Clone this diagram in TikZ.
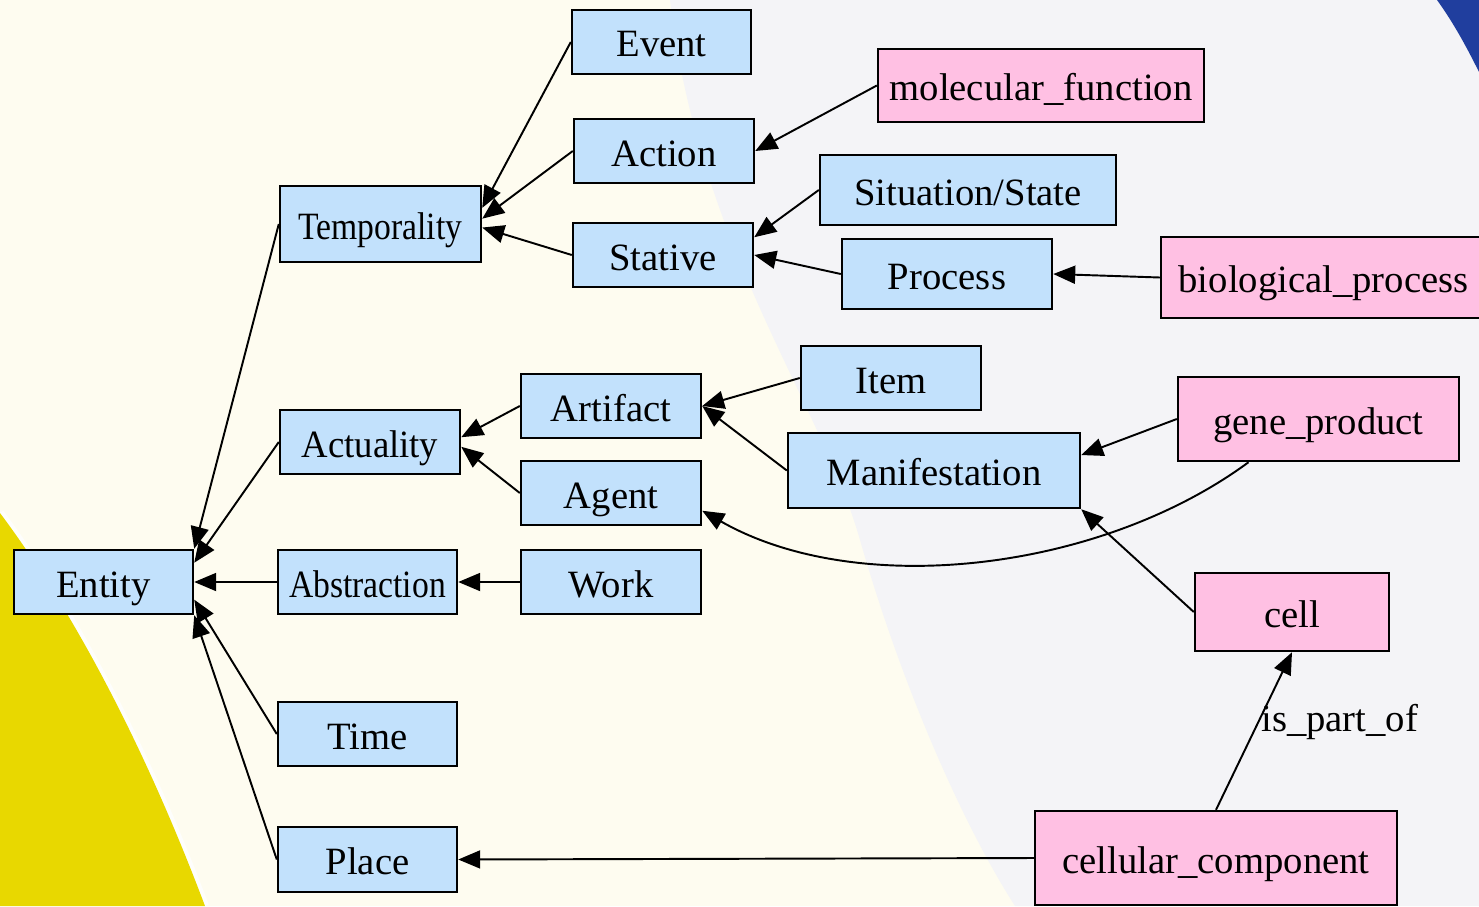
\documentclass[tikz,border=0pt]{standalone}
\usepackage{fontspec}
\setmainfont{Liberation Serif}
\usepackage{graphicx}
\usepackage{tikz}
\usetikzlibrary{arrows.meta, calc}

\definecolor{clsblue}{RGB}{194,225,252}
\definecolor{gopink}{RGB}{255,192,227}
\definecolor{creambg}{RGB}{254,252,240}
\definecolor{graybg}{RGB}{244,244,247}
\definecolor{sunyellow}{RGB}{232,216,0}
\definecolor{cornerblue}{RGB}{32,62,158}

\begin{document}
\begin{tikzpicture}[x=0.02cm, y=-0.02cm,
        cls/.style={draw, line width=1.4pt, fill=clsblue, inner sep=0pt, text height=0.66cm, text depth=0.06cm, font=\fontsize{22}{26}\selectfont},
        gocls/.style={cls, fill=gopink},
        isa/.style={-{Triangle[length=0.44cm, width=0.36cm]}, line width=1.1pt}]
        \useasboundingbox (0,0) rectangle (1479,906);

        % background
        \fill[creambg] (0,0) rectangle (1479,906);
        \fill[graybg] (670,0) .. controls (700,250) and (820,400) .. (860,540) .. controls (900,680) and (960,820) .. (1015,906) -- (1479,906) -- (1479,0) -- cycle;
        \draw[white, line width=0.16cm, opacity=0.8] (0,513) .. controls (80,620) and (150,760) .. (205,906);
        \fill[sunyellow] (0,513) .. controls (80,620) and (150,760) .. (205,906) -- (0,906) -- cycle;
        \fill[cornerblue] (1437,0) .. controls (1455,25) and (1468,50) .. (1479,72) -- (1479,0) -- cycle;

        % classes
        \node[cls, minimum width=3.58cm, minimum height=1.28cm] (Entity) at (103.5,582) {Entity};
        \node[cls, minimum width=4.02cm, minimum height=1.52cm] (Temporality) at (380.5,224) {\scalebox{0.87}[1]{Temporality}};
        \node[cls, minimum width=3.6cm, minimum height=1.28cm] (Actuality) at (370,442) {\scalebox{0.95}[1]{Actuality}};
        \node[cls, minimum width=3.58cm, minimum height=1.28cm] (Abstraction) at (367.5,582) {\scalebox{0.87}[1]{Abstraction}};
        \node[cls, minimum width=3.58cm, minimum height=1.28cm] (Time) at (367.5,734) {Time};
        \node[cls, minimum width=3.58cm, minimum height=1.3cm] (Place) at (367.5,859.5) {Place};

        \node[cls, minimum width=3.58cm, minimum height=1.28cm] (Event) at (661.5,42) {Event};
        \node[cls, minimum width=3.6cm, minimum height=1.28cm] (Action) at (664,151) {Action};
        \node[cls, minimum width=3.6cm, minimum height=1.28cm] (Stative) at (663,255) {Stative};
        \node[cls, minimum width=5.92cm, minimum height=1.4cm] (Situation) at (968,190) {Situation/State};
        \node[cls, minimum width=4.2cm, minimum height=1.4cm] (Process) at (947,274) {Process};

        \node[cls, minimum width=3.6cm, minimum height=1.28cm] (Artifact) at (611,406) {Artifact};
        \node[cls, minimum width=3.6cm, minimum height=1.28cm] (Agent) at (611,493) {Agent};
        \node[cls, minimum width=3.6cm, minimum height=1.28cm] (Work) at (611,582) {Work};
        \node[cls, minimum width=3.6cm, minimum height=1.28cm] (Item) at (891,378) {Item};
        \node[cls, minimum width=5.84cm, minimum height=1.5cm] (Manifestation) at (934,470.5) {Manifestation};

        % GO terms
        \node[gocls, minimum width=6.52cm, minimum height=1.46cm] (molfunc) at (1041,85.5) {molecular\_function};
        \node[gocls, minimum width=6.5cm, minimum height=1.62cm] (bioproc) at (1323.5,277.5) {biological\_process};
        \node[gocls, minimum width=5.62cm, minimum height=1.68cm] (geneprod) at (1318.5,419) {gene\_product};
        \node[gocls, minimum width=3.88cm, minimum height=1.56cm] (cell) at (1292,612) {cell};
        \node[gocls, minimum width=7.24cm, minimum height=1.88cm] (cellcomp) at (1216,858) {cellular\_component};

        % is-a links
        \draw[isa] (Temporality.west) -- (Entity.north east);
        \draw[isa] (Actuality.west) -- (Entity.12);
        \draw[isa] (Abstraction.west) -- (Entity.east);
        \draw[isa] (Time.west) -- (Entity.-11);
        \draw[isa] (Place.west) -- (Entity.south east);

        \draw[isa] (Event.west) -- (Temporality.9);
        \draw[isa] (Action.west) -- (Temporality.3);
        \draw[isa] (Stative.west) -- (Temporality.-2);
        \draw[isa] (molfunc.west) -- (Action.east);
        \draw[isa] (Situation.west) -- (Stative.11);
        \draw[isa] (Process.west) -- (Stative.east);
        \draw[isa] (bioproc.west) -- (Process.east);

        \draw[isa] (Artifact.west) -- (Actuality.3);
        \draw[isa] (Agent.west) -- (Actuality.-3);
        \draw[isa] (Work.west) -- (Abstraction.east);
        \draw[isa] (Item.west) -- (Artifact.east);
        \draw[isa] (Manifestation.west) -- (Artifact.east);
        \draw[isa] (geneprod.west) -- (Manifestation.6);
        \draw[isa] ($(geneprod.south)+(-70,0)$) .. controls +(-148,109) and +(156,89) .. (Agent.-11);
        \draw[isa] (cell.west) -- (Manifestation.south east);
        \draw[isa] (cellcomp.north) -- (cell.south)
            node[pos=0.56, anchor=west, inner sep=1pt, font=\fontsize{22}{26}\selectfont] {is\_part\_of};
        \draw[isa] (cellcomp.west) -- (Place.east);
\end{tikzpicture}
\end{document}
